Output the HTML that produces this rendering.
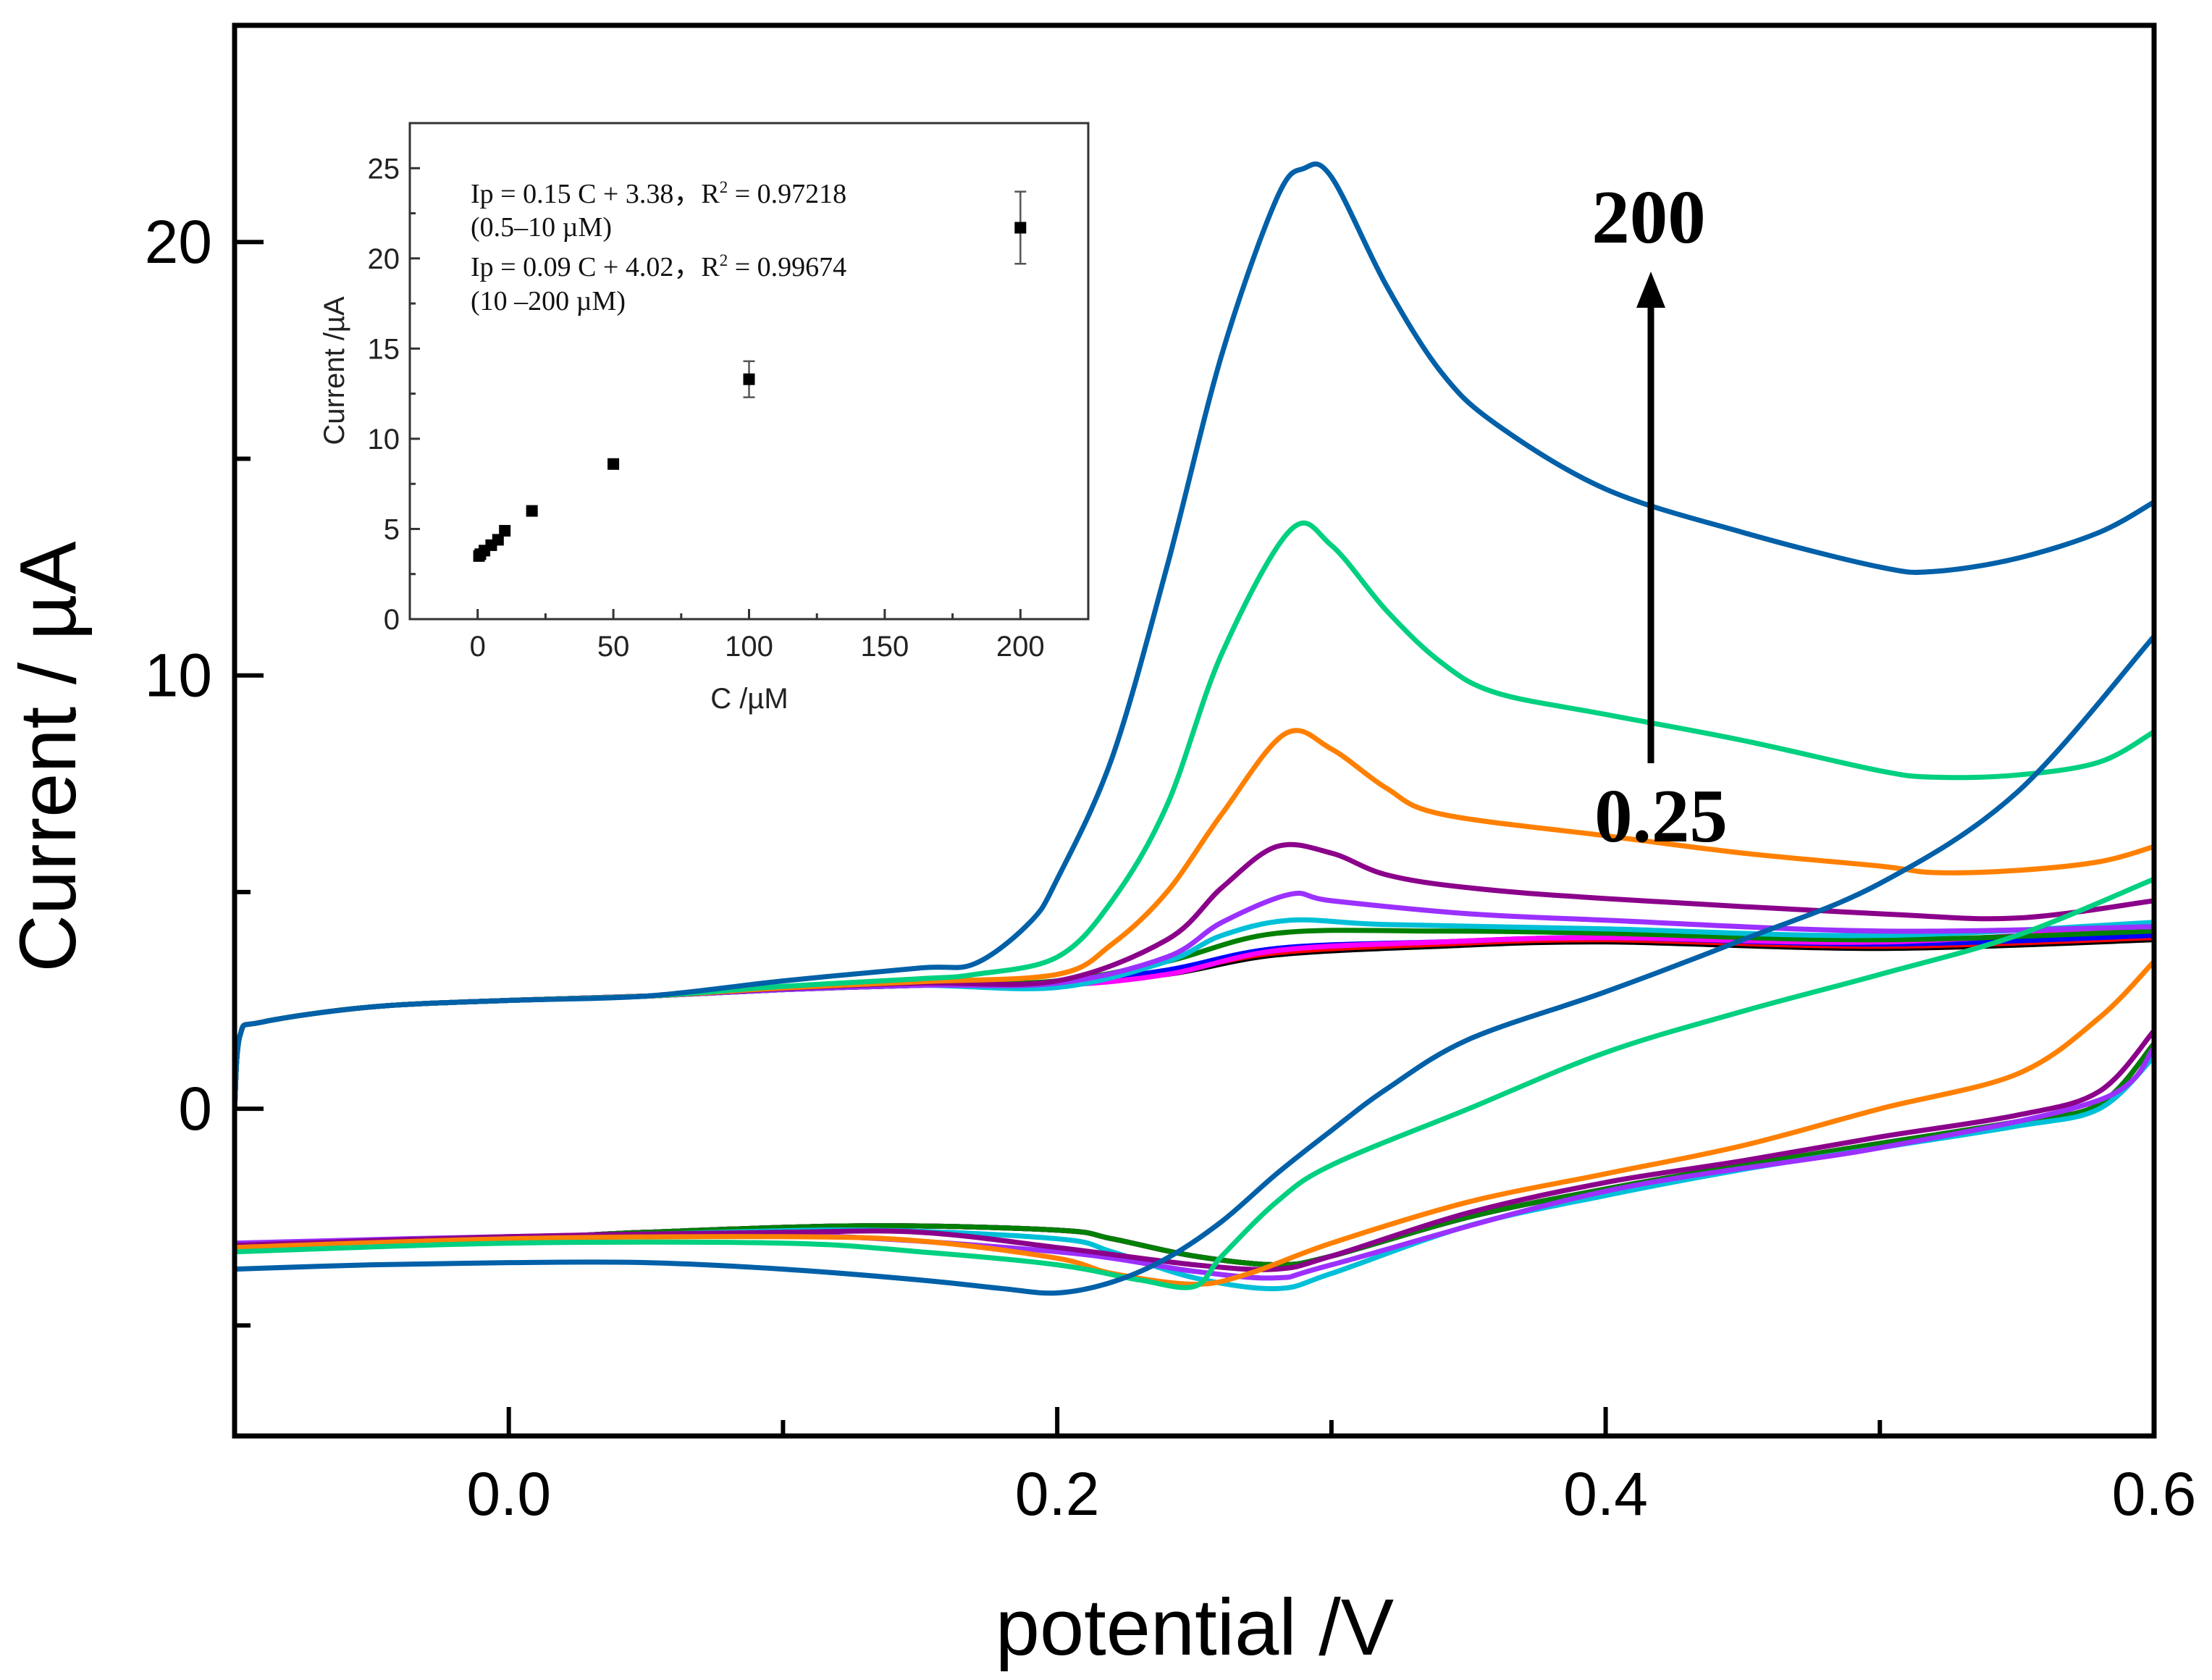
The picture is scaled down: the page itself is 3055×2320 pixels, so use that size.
<!DOCTYPE html>
<html><head><meta charset="utf-8"><style>
html,body{margin:0;padding:0;background:#fff;}
svg{display:block;}
text{font-family:"Liberation Sans",sans-serif;}
.serif{font-family:"Liberation Serif",serif;}
</style></head><body>
<svg id="chart" width="3055" height="2320" viewBox="0 0 3055 2320" xmlns="http://www.w3.org/2000/svg">
<defs><clipPath id="plotclip"><rect x="324" y="35" width="2651" height="1948"/></clipPath></defs>
<g id="curves" clip-path="url(#plotclip)"></g>
<g id="axes"></g>
<g id="inset"></g>
<g id="annot"></g>
</svg>
<script>
// ---------- main chart data ----------
const xTicks = [0.0, 0.2, 0.4, 0.6];
const xTickLabels = ["0.0", "0.2", "0.4", "0.6"];
const yTicks = [0, 10, 20];
const yTickLabels = ["0", "10", "20"];
const seriesNames = ["0.25","0.5","1","2.5","5","7.5","10","20","50","100","200"];
const seriesColors = ["#000000","#ff0000","#0000ff","#ff00ff","#008000","#00c0d8","#9b30ff","#8b008b","#ff8000","#00d080","#0060a8"];
const baseFwd = [[-0.1,0],[-0.098,1.7],[-0.09,2.0],[-0.05,2.35],[0,2.5],[0.05,2.6],[0.1,2.75],[0.15,2.85]];
const fwd0 = [[0.2,2.9],[0.24,3.1],[0.28,3.55],[0.34,3.75],[0.4,3.85],[0.5,3.7],[0.6,3.9]];
const fwd1 = [[0.2,2.9],[0.24,3.15],[0.28,3.6],[0.34,3.8],[0.4,3.9],[0.5,3.75],[0.6,3.95]];
const fwd2 = [[0.2,2.9],[0.24,3.2],[0.28,3.7],[0.34,3.85],[0.4,3.95],[0.5,3.8],[0.6,4.0]];
const fwd3 = [[0.2,2.85],[0.24,3.1],[0.28,3.65],[0.34,3.85],[0.4,3.95],[0.5,3.85],[0.6,4.2]];
const fwd4 = [[0.2,2.95],[0.24,3.4],[0.28,4.05],[0.34,4.1],[0.4,4.05],[0.5,3.9],[0.6,4.1]];
const fwd5 = [[0.2,2.8],[0.24,3.4],[0.26,4.0],[0.285,4.35],[0.32,4.25],[0.4,4.15],[0.5,4.0],[0.6,4.3]];
const fwd6 = [[0.2,2.9],[0.24,3.5],[0.26,4.3],[0.285,4.95],[0.3,4.8],[0.35,4.5],[0.4,4.35],[0.5,4.1],[0.6,4.2]];
const fwd7 = [[0.2,2.95],[0.24,3.9],[0.26,5.1],[0.28,6.05],[0.3,5.9],[0.32,5.4],[0.35,5.1],[0.4,4.85],[0.5,4.5],[0.55,4.4],[0.6,4.8]];
const fwd8 = [[0.2,3.1],[0.22,3.8],[0.24,5.0],[0.26,6.8],[0.283,8.65],[0.3,8.3],[0.32,7.4],[0.34,6.8],[0.4,6.3],[0.45,5.9],[0.5,5.6],[0.52,5.45],[0.55,5.5],[0.58,5.7],[0.6,6.05]];
const fwd9 = [[0.17,3.1],[0.2,3.5],[0.22,4.8],[0.24,7.0],[0.26,10.5],[0.285,13.35],[0.3,13.0],[0.32,11.5],[0.34,10.3],[0.36,9.6],[0.4,9.1],[0.45,8.5],[0.5,7.8],[0.52,7.65],[0.55,7.7],[0.58,8.0],[0.6,8.7]];
const fwd10 = [[0.17,3.35],[0.19,4.3],[0.2,5.3],[0.22,8.1],[0.24,12.5],[0.26,17.4],[0.28,21.0],[0.29,21.7],[0.3,21.5],[0.32,19.0],[0.34,17.0],[0.36,15.8],[0.4,14.3],[0.45,13.3],[0.5,12.5],[0.52,12.4],[0.55,12.7],[0.58,13.3],[0.6,14.0]];
const revLow = [[0.6,1.5],[0.58,0.1],[0.55,-0.3],[0.5,-0.8],[0.45,-1.3],[0.4,-1.85],[0.35,-2.5],[0.3,-3.4],[0.28,-3.6],[0.25,-3.4],[0.22,-3.0],[0.2,-2.8],[0.13,-2.7],[0.05,-2.85],[0,-3.0],[-0.1,-3.2]];
const rev5 = [[0.6,1.2],[0.58,0.0],[0.55,-0.4],[0.5,-0.9],[0.45,-1.4],[0.4,-2.0],[0.35,-2.7],[0.3,-3.8],[0.28,-4.15],[0.25,-3.9],[0.22,-3.3],[0.2,-3.0],[0.13,-2.8],[0.05,-2.9],[0,-3.0],[-0.1,-3.1]];
const rev6 = [[0.6,1.4],[0.58,0.2],[0.5,-0.9],[0.4,-1.9],[0.3,-3.6],[0.28,-3.9],[0.25,-3.75],[0.2,-3.3],[0.1,-2.9],[0,-2.95],[-0.1,-3.1]];
const rev7 = [[0.6,1.8],[0.58,0.4],[0.55,-0.15],[0.5,-0.65],[0.45,-1.2],[0.4,-1.7],[0.35,-2.4],[0.3,-3.4],[0.28,-3.7],[0.25,-3.6],[0.2,-3.2],[0.15,-2.85],[0.1,-2.85],[0,-2.95],[-0.1,-3.15]];
const rev8 = [[0.6,3.4],[0.58,2.1],[0.55,0.8],[0.5,0.0],[0.45,-0.85],[0.4,-1.5],[0.35,-2.15],[0.3,-3.1],[0.27,-3.8],[0.25,-4.05],[0.22,-3.8],[0.2,-3.45],[0.15,-3.05],[0.1,-2.95],[0,-3.0],[-0.1,-3.2]];
const rev9 = [[0.6,5.3],[0.55,4.0],[0.5,3.1],[0.45,2.25],[0.4,1.3],[0.35,0.0],[0.3,-1.3],[0.28,-2.15],[0.26,-3.4],[0.25,-4.1],[0.23,-3.95],[0.2,-3.6],[0.15,-3.3],[0.1,-3.1],[0,-3.1],[-0.1,-3.3]];
const rev10 = [[0.6,10.9],[0.55,7.3],[0.5,5.2],[0.45,3.9],[0.4,2.7],[0.35,1.6],[0.32,0.45],[0.3,-0.5],[0.28,-1.5],[0.26,-2.6],[0.24,-3.45],[0.22,-4.0],[0.2,-4.25],[0.18,-4.15],[0.15,-3.95],[0.1,-3.7],[0.05,-3.55],[0,-3.55],[-0.05,-3.6],[-0.1,-3.7]];
const fwdSets = [fwd0,fwd1,fwd2,fwd3,fwd4,fwd5,fwd6,fwd7,fwd8,fwd9,fwd10];
const revSets = [revLow,revLow,revLow,revLow,revLow,rev5,rev6,rev7,rev8,rev9,rev10];
const fwdBumps = [0,0,0,0,0,0,0,0.05,0.08,0.15,0.4];

// ---------- inset data ----------
const insetC = [0.5,1,2.5,5,7.5,10,20,50,100,200];
const insetI = [3.5,3.6,3.8,4.1,4.4,4.9,6.0,8.6,13.3,21.7];
const insetErr = [0,0,0,0,0,0,0,0,1.0,2.0];
const insetXTicks = [0,50,100,150,200];
const insetYTicks = [0,5,10,15,20,25];

const NS="http://www.w3.org/2000/svg";
function mk(tag, attrs, parent){const e=document.createElementNS(NS,tag);for(const k in attrs)e.setAttribute(k,attrs[k]);parent.appendChild(e);return e;}

const L=324,R=2975,T=35,B=1983;
const xMin=-0.1,xMax=0.6,yMin=-7.55,yMax=25;
const sx=v=>L+(v-xMin)/(xMax-xMin)*(R-L);
const sy=v=>B-(v-yMin)/(yMax-yMin)*(B-T);

function smoothSeg(pts, start){
  let d=start?("M"+pts[0][0].toFixed(1)+","+pts[0][1].toFixed(1)):(" L"+pts[0][0].toFixed(1)+","+pts[0][1].toFixed(1));
  for(let i=0;i<pts.length-1;i++){
    const p0=pts[Math.max(0,i-1)],p1=pts[i],p2=pts[i+1],p3=pts[Math.min(pts.length-1,i+2)];
    let c1=[p1[0]+(p2[0]-p0[0])/6,p1[1]+(p2[1]-p0[1])/6];
    let c2=[p2[0]-(p3[0]-p1[0])/6,p2[1]-(p3[1]-p1[1])/6];
    const lo=Math.min(p1[0],p2[0]),hi=Math.max(p1[0],p2[0]);
    c1[0]=Math.min(hi,Math.max(lo,c1[0]));c2[0]=Math.min(hi,Math.max(lo,c2[0]));
    d+=" C"+c1[0].toFixed(1)+","+c1[1].toFixed(1)+" "+c2[0].toFixed(1)+","+c2[1].toFixed(1)+" "+p2[0].toFixed(1)+","+p2[1].toFixed(1);
  }
  return d;
}

const curves=document.getElementById('curves');
for(let i=0;i<seriesNames.length;i++){
  const b=fwdBumps[i];
  const base=baseFwd.map(p=>[p[0], p[1]+(p[0]>=0.1?b*(p[0]-0.05)/0.1:0)]);
  const f=base.concat(fwdSets[i]).map(p=>[sx(p[0]),sy(p[1])]);
  const r=revSets[i].map(p=>[sx(p[0]),sy(p[1])]);
  const d=smoothSeg(f,true)+smoothSeg(r,false);
  const path=mk('path',{d:d,fill:"none",stroke:seriesColors[i],"stroke-width":7,"stroke-linejoin":"round"},curves);
  
  
}

const axes=document.getElementById('axes');
const frame=mk('rect',{x:L,y:T,width:R-L,height:B-T,fill:"none",stroke:"#000","stroke-width":7},axes);


for(let k=0;k<=7;k++){
  const v=-0.1+k*0.1;
  const major=xTicks.some(t=>Math.abs(t-v)<1e-6);
  mk('line',{x1:sx(v),x2:sx(v),y1:B,y2:B-(major?40:22),stroke:"#000","stroke-width":6},axes);
}
xTicks.forEach((v,i)=>{
  const t=mk('text',{x:sx(v),y:2092,"font-size":84,"text-anchor":"middle"},axes);
  t.textContent=xTickLabels[i];
  
  
});
[-5,0,5,10,15,20].forEach(v=>{
  const major=yTicks.includes(v);
  mk('line',{x1:L,x2:L+(major?40:22),y1:sy(v),y2:sy(v),stroke:"#000","stroke-width":6},axes);
});
yTicks.forEach((v,i)=>{
  const t=mk('text',{x:293,y:sy(v)+29,"font-size":84,"text-anchor":"end"},axes);
  t.textContent=yTickLabels[i];
  
  
});
const yt=mk('text',{x:0,y:0,"font-size":110,"text-anchor":"middle",transform:"translate(104,1045) rotate(-90)"},axes);
yt.textContent="Current / µA";


const xt=mk('text',{x:1650,y:2285,"font-size":110,"text-anchor":"middle"},axes);
xt.textContent="potential /V";



const annot=document.getElementById('annot');
const arr=mk('line',{x1:2280,y1:1054,x2:2280,y2:420,stroke:"#000","stroke-width":9},annot);


const head=mk('polygon',{points:"2280,375 2260,425 2300,425",fill:"#000"},annot);


const a1=mk('text',{x:2277,y:335,"font-size":105,"font-weight":"bold","text-anchor":"middle",class:"serif"},annot);
a1.textContent="200";


const a2=mk('text',{x:2294,y:1162,"font-size":105,"font-weight":"bold","text-anchor":"middle",class:"serif"},annot);
a2.textContent="0.25";



const inset=document.getElementById('inset');
const iL=566,iR=1503,iT=170,iB=855;
const ixMin=-25,ixMax=225,iyMin=0,iyMax=27.5;
const ix=v=>iL+(v-ixMin)/(ixMax-ixMin)*(iR-iL);
const iy=v=>iB-(v-iyMin)/(iyMax-iyMin)*(iB-iT);
const iframe=mk('rect',{x:iL,y:iT,width:iR-iL,height:iB-iT,fill:"#fff",stroke:"#333","stroke-width":3},inset);


for(let v=0;v<=200;v+=25){
  const major=insetXTicks.includes(v);
  mk('line',{x1:ix(v),x2:ix(v),y1:iB,y2:iB-(major?14:8),stroke:"#333","stroke-width":3},inset);
}
insetXTicks.forEach(v=>{
  const t=mk('text',{x:ix(v),y:906,"font-size":40,"text-anchor":"middle",fill:"#222"},inset);
  t.textContent=String(v);
  
  
});
for(let v=0;v<=25;v+=2.5){
  const major=insetYTicks.includes(v);
  mk('line',{x1:iL,x2:iL+(major?14:8),y1:iy(v),y2:iy(v),stroke:"#333","stroke-width":3},inset);
}
insetYTicks.forEach(v=>{
  const t=mk('text',{x:552,y:iy(v)+14,"font-size":40,"text-anchor":"end",fill:"#222"},inset);
  t.textContent=String(v);
  
  
});
const iyt=mk('text',{x:0,y:0,"font-size":40,"text-anchor":"middle",fill:"#222",transform:"translate(475,512) rotate(-90)"},inset);
iyt.textContent="Current /µA";


const ixt=mk('text',{x:1035,y:978,"font-size":40,"text-anchor":"middle",fill:"#222"},inset);
ixt.textContent="C /µM";


insetC.forEach((c,i)=>{
  if(insetErr[i]>0){
    const e=insetErr[i];
    mk('line',{x1:ix(c),x2:ix(c),y1:iy(insetI[i]+e),y2:iy(insetI[i]-e),stroke:"#555","stroke-width":2.5},inset);
    mk('line',{x1:ix(c)-8,x2:ix(c)+8,y1:iy(insetI[i]+e),y2:iy(insetI[i]+e),stroke:"#555","stroke-width":2.5},inset);
    mk('line',{x1:ix(c)-8,x2:ix(c)+8,y1:iy(insetI[i]-e),y2:iy(insetI[i]-e),stroke:"#555","stroke-width":2.5},inset);
  }
  const r=mk('rect',{x:ix(c)-8,y:iy(insetI[i])-8,width:16,height:16,fill:"#000"},inset);
  
  
});
const eq=[["Ip = 0.15 C + 3.38，R","2"," = 0.97218",280],["(0.5–10 µM)","","",326],["Ip = 0.09 C + 4.02，R","2"," = 0.99674",381],["(10 –200 µM)","","",428]];
eq.forEach(l=>{
  const t=mk('text',{x:650,y:l[3],"font-size":38,class:"serif",fill:"#111"},inset);
  
  
  t.appendChild(document.createTextNode(l[0]));
  if(l[1]){const s=mk('tspan',{dy:-14,"font-size":23},t);s.textContent=l[1];
    const s2=mk('tspan',{dy:14},t);s2.textContent=l[2];}
});
</script>
</body></html>
